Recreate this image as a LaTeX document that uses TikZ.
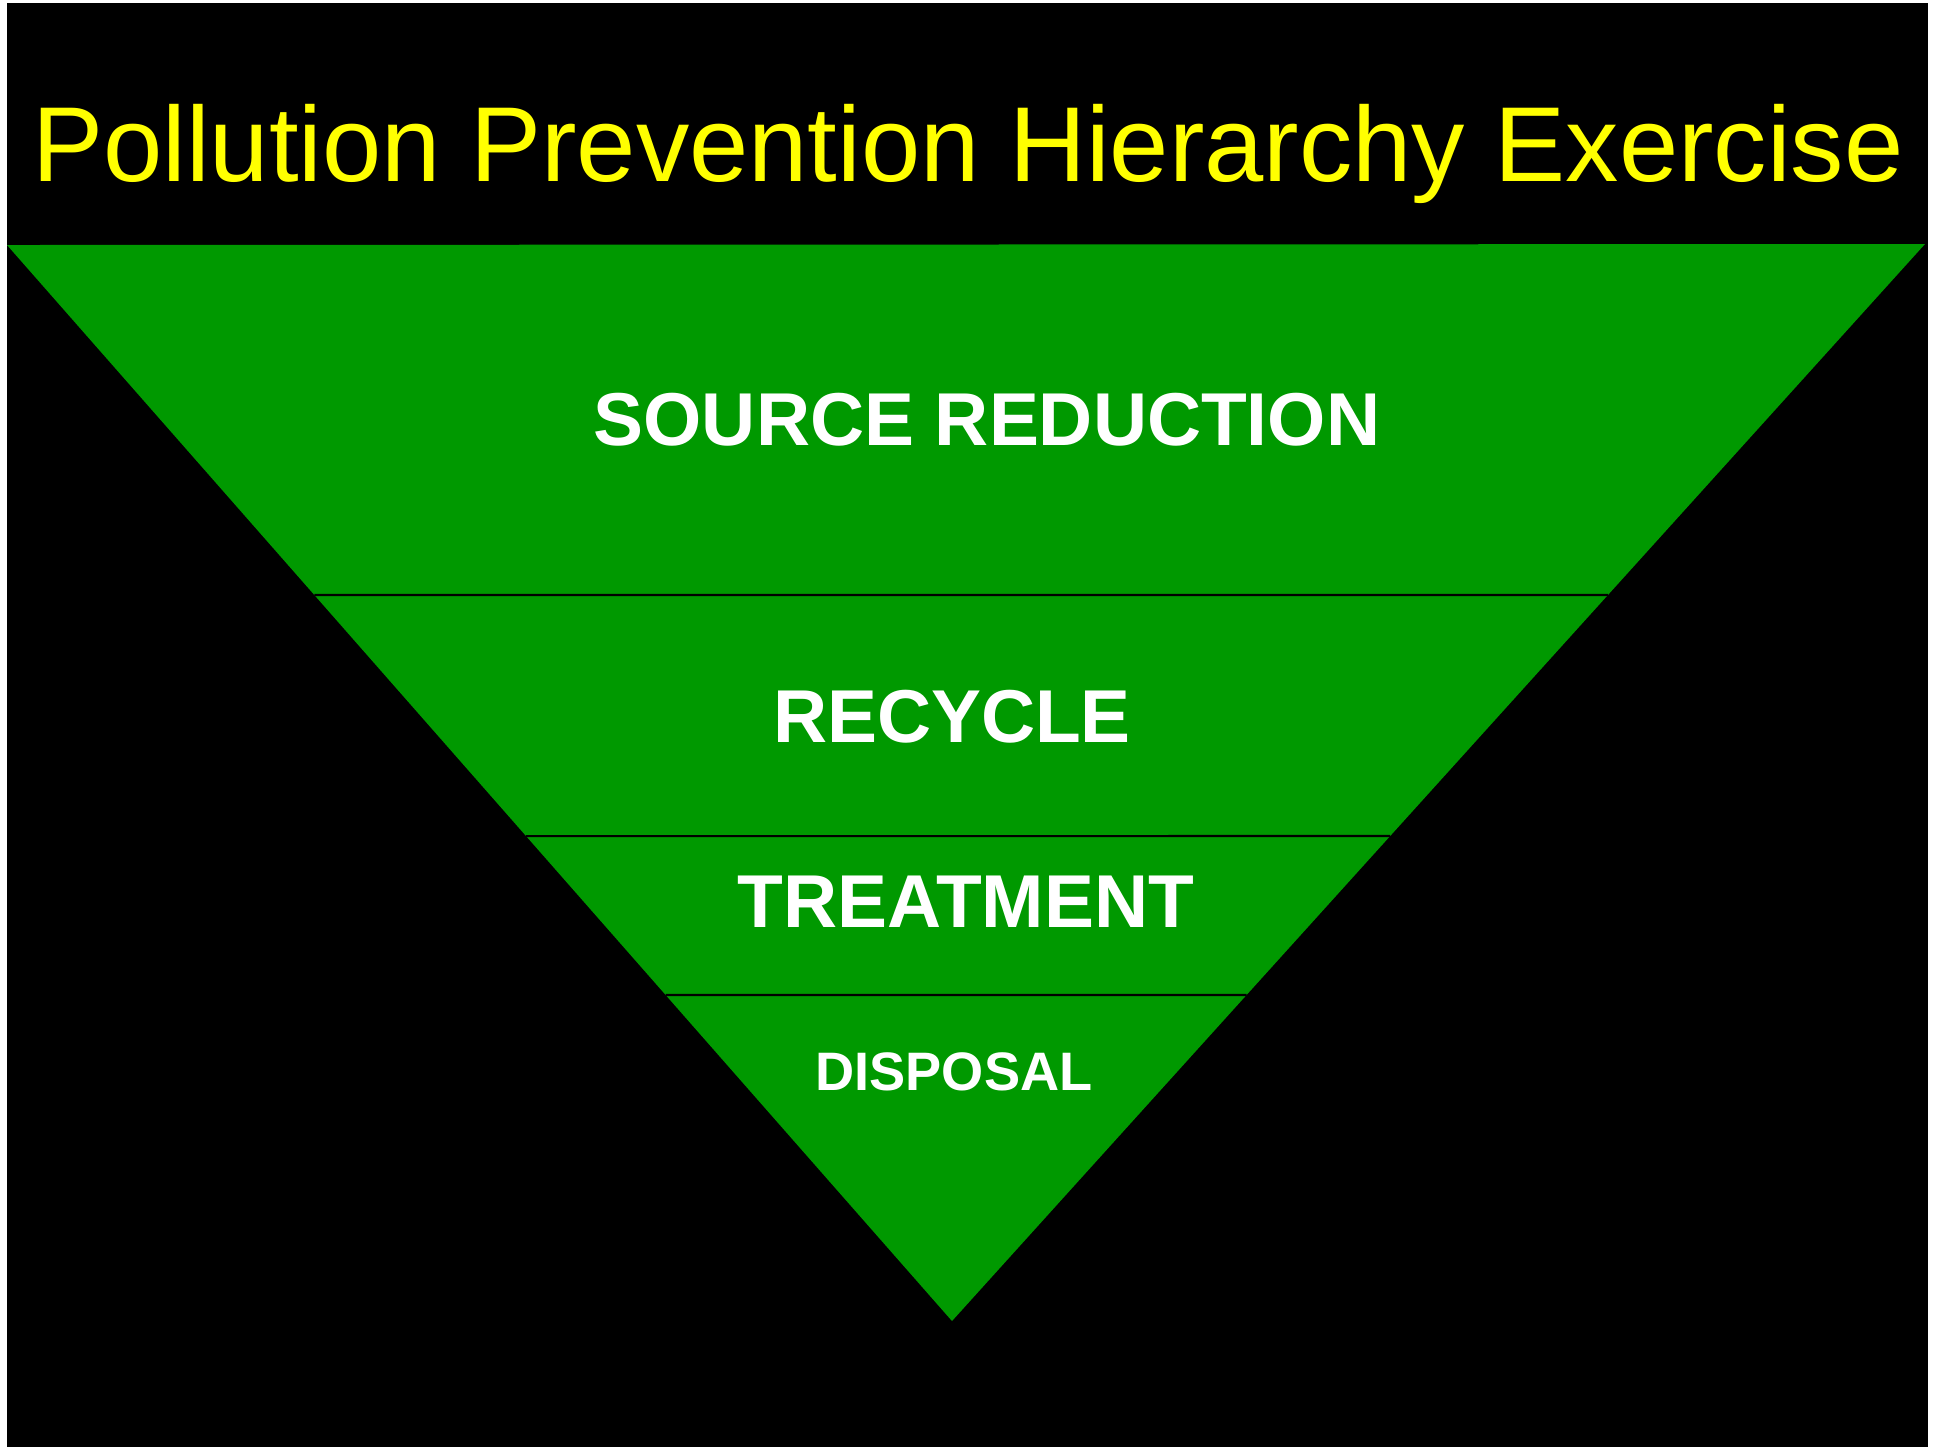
\documentclass[tikz,border=0pt]{standalone}
\usepackage{fontspec}
\setmainfont{Liberation Sans}
\usetikzlibrary{calc,positioning}
\definecolor{layergreen}{RGB}{0,153,0}
\definecolor{titleyellow}{RGB}{255,255,0}
\tikzstyle{divider}=[draw=black, line width=0.6pt]
\tikzstyle{label}  =[inner sep=0pt, anchor=base, text=white,
                    font=\fontsize{21.3}{26}\selectfont\bfseries]
\tikzstyle{title}  =[inner sep=0pt, anchor=base, text=titleyellow,
                    font=\fontsize{30.3}{36}\selectfont]

\begin{document}
\begin{tikzpicture}[x=0.01cm, y=-0.01cm]
    \useasboundingbox (0,0) rectangle (1933,1447);
    \fill[white] (0,0) rectangle (1933,1447);
    \fill[black] (7,3) rectangle (1928,1447);
    % corners of the pyramid
    \coordinate (tl) at (7,245);
    \coordinate (tr) at (1925,244);
    \coordinate (apex) at (952,1321);
    \fill[layergreen] (tl) -- (tr) -- (apex) -- cycle;
    % layer borders
    \coordinate (l1) at ($(tl)!0.3253!(apex)$);
    \coordinate (r1) at ($(tr)!0.3259!(apex)$);
    \coordinate (l2) at ($(tl)!0.5493!(apex)$);
    \coordinate (r2) at ($(tr)!0.5497!(apex)$);
    \coordinate (l3) at ($(tl)!0.6970!(apex)$);
    \coordinate (r3) at ($(tr)!0.6973!(apex)$);
    \draw[divider] (l1) -- (r1);
    \draw[divider] (l2) -- (r2);
    \draw[divider] (l3) -- (r3);
    % texts
    \node (head) [title] at (968,181) {Pollution Prevention Hierarchy Exercise};
    \node (source) [label] at (987,445) {SOURCE REDUCTION};
    \node (recycle) [label] at (952,742) {RECYCLE};
    \node (treat) [label] at (966,927) {TREATMENT};
    \node (dispose) [label, font=\fontsize{15.4}{19}\selectfont\bfseries] at (954,1090) {DISPOSAL};
\end{tikzpicture}
\end{document}
